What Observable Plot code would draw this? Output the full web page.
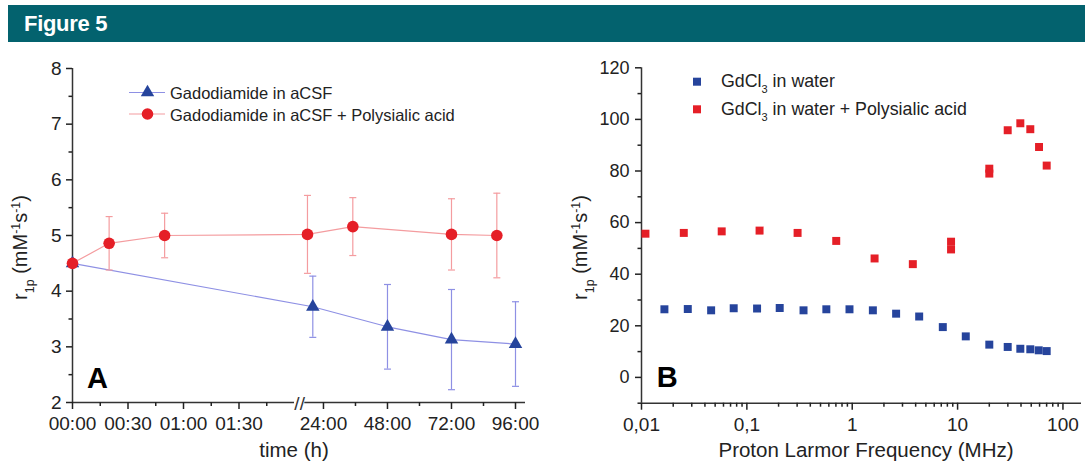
<!DOCTYPE html>
<html><head><meta charset="utf-8">
<script src="https://cdn.jsdelivr.net/npm/d3@7"></script>
<script src="https://cdn.jsdelivr.net/npm/@observablehq/plot@0.6"></script>
<style>
body{margin:0;background:#fff;width:1085px;height:467px;overflow:hidden;font-family:"Liberation Sans",Arial,sans-serif;}
#hdr{position:absolute;left:8px;top:5px;width:1077px;height:37px;background:#03626e;color:#fff;font-weight:bold;font-size:22px;line-height:37px;padding-left:16px;box-sizing:border-box;letter-spacing:-0.3px;}
#charts{position:absolute;left:0;top:42px;display:flex;}
</style></head><body>
<div id="hdr">Figure 5</div>
<div id="charts"><div id="a"></div><div id="b"></div></div>
<script>
// ---------- Panel A data ----------
const seriesA = ["Gadodiamide in aCSF", "Gadodiamide in aCSF + Polysialic acid"];
const hoursBlue = [0, 20, 48, 72, 96];
const r1pBlue = [4.5, 3.72, 3.36, 3.13, 3.05];
const errBlue = [0, 0.55, 0.76, 0.9, 0.76];
const hoursRed = [0, 0.33, 0.83, 18, 35, 72, 89];
const r1pRed = [4.5, 4.86, 5.0, 5.02, 5.16, 5.02, 5.0];
const errRed = [0, 0.48, 0.4, 0.7, 0.52, 0.64, 0.76];
const tickHoursA = [0, 0.5, 1, 1.5, 24, 48, 72, 96];
const tickLabelsA = ["00:00", "00:30", "01:00", "01:30", "24:00", "48:00", "72:00", "96:00"];
const minorHoursA = [0.25, 0.75, 1.25, 1.75, 36, 60, 84];
const yTicksA = [2, 3, 4, 5, 6, 7, 8];
const yMinorA = [2.5, 3.5, 4.5, 5.5, 6.5, 7.5];
const breakA = [2, 17];      // hours hidden by the axis break
const domainA = [0, 99.75];

// ---------- Panel B data ----------
const seriesB = ["GdCl|3| in water", "GdCl|3| in water + Polysialic acid"];
const freqBlue = [0.0165, 0.0275, 0.0458, 0.075, 0.125, 0.205, 0.345, 0.568, 0.942, 1.57, 2.61, 4.32, 7.24, 11.96, 20.0, 29.9, 39.4, 49.0, 58.9, 70.1];
const r1pBlueB = [26.4, 26.5, 26.0, 26.8, 26.7, 26.9, 26.0, 26.4, 26.4, 26.0, 24.7, 23.6, 19.5, 15.9, 12.7, 11.8, 11.1, 10.9, 10.5, 10.2];
const freqRed = [0.0109, 0.0252, 0.0577, 0.132, 0.303, 0.705, 1.63, 3.76, 8.67, 8.67, 20.0, 20.0, 29.9, 39.4, 49.0, 59.3, 70.1];
const r1pRedB = [55.7, 56.0, 56.6, 56.9, 56.0, 52.9, 46.1, 43.9, 52.6, 49.6, 80.9, 79.0, 95.8, 98.5, 96.2, 89.3, 82.1];
const tickFreqB = [0.01, 0.1, 1, 10, 100];
const tickLabelsB = ["0,01", "0,1", "1", "10", "100"];
const minorFreqB = [0.02,0.03,0.04,0.05,0.06,0.07,0.08,0.09,0.2,0.3,0.4,0.5,0.6,0.7,0.8,0.9,2,3,4,5,6,7,8,9,20,30,40,50,60,70,80,90];
const yTicksB = [0, 20, 40, 60, 80, 100, 120];
const yMinorB = [-10, 10, 30, 50, 70, 90, 110];
const domainB = [0.01, 150];
const yDomainB = [-10, 120];

// ---------- styles ----------
const BLUE = "#26449c", BLUE_LINE = "#8e90e4";
const RED = "#e51f27", RED_LINE = "#f49c9f";
const AXIS = "#333";
const FONT = "'Liberation Sans', Arial, sans-serif";

const capSymbol = {draw(ctx, size) { const w = Math.sqrt(size / Math.PI); ctx.moveTo(-w, 0); ctx.lineTo(w, 0); }};

const blueA = hoursBlue.map((h, i) => ({h, r: r1pBlue[i], e: errBlue[i]}));
const redA = hoursRed.map((h, i) => ({h, r: r1pRed[i], e: errRed[i]}));
const errMarks = (data, color) => {
  const d = data.filter(v => v.e > 0);
  return [
    Plot.ruleX(d, {x: "h", y1: v => v.r - v.e, y2: v => v.r + v.e, stroke: color, strokeWidth: 1.2}),
    Plot.dot(d, {x: "h", y: v => v.r + v.e, symbol: capSymbol, r: 3.5, stroke: color, strokeWidth: 1.2, fill: "none"}),
    Plot.dot(d, {x: "h", y: v => v.r - v.e, symbol: capSymbol, r: 3.5, stroke: color, strokeWidth: 1.2, fill: "none"})
  ];
};

const plotA = Plot.plot({
  width: 540, height: 425,
  marginLeft: 72, marginRight: 15, marginTop: 26, marginBottom: 65,
  style: {fontFamily: FONT, fontSize: "19px", color: "#222", background: "transparent", overflow: "visible", maxWidth: "none"},
  x: {type: "linear", domain: [domainA[0], breakA[0], breakA[1], domainA[1]], range: [72, 294, 304.3, 525]},
  y: {domain: [2, 8]},
  marks: [
    Plot.ruleX([domainA[0]], {stroke: AXIS, strokeWidth: 1.5}),
    Plot.ruleY([{x1: domainA[0], x2: breakA[0]}, {x1: breakA[1], x2: domainA[1]}], {x1: "x1", x2: "x2", y: () => 2, stroke: AXIS, strokeWidth: 1.5}),
    Plot.text(["//"], {x: () => (breakA[0] + breakA[1]) / 2, y: () => 2, text: d => d, fontSize: 19, fill: AXIS, dy: 1}),
    Plot.axisX(tickHoursA, {tickSize: 7, tickPadding: 7, strokeWidth: 1.5, fontSize: 19, tickFormat: d => tickLabelsA[tickHoursA.indexOf(d)], label: null}),
    Plot.axisX(minorHoursA, {tickSize: 4, strokeWidth: 1.5, tickFormat: () => "", label: null}),
    Plot.axisY(yTicksA, {tickSize: 6, tickPadding: 5, strokeWidth: 1.5, fontSize: 19, tickFormat: d => String(d), label: null}),
    Plot.axisY(yMinorA, {tickSize: 3.5, strokeWidth: 1.5, tickFormat: () => "", label: null}),
    ...errMarks(blueA, BLUE_LINE),
    Plot.line(blueA, {x: "h", y: "r", stroke: BLUE_LINE, strokeWidth: 1.2}),
    Plot.dot(blueA, {x: "h", y: "r", symbol: "triangle", r: 5, fill: BLUE}),
    ...errMarks(redA, RED_LINE),
    Plot.line(redA, {x: "h", y: "r", stroke: RED_LINE, strokeWidth: 1.2}),
    Plot.dot(redA, {x: "h", y: "r", symbol: "circle", r: 5.8, fill: RED})
  ]
});
document.getElementById("a").append(plotA);

const blueB = freqBlue.map((f, i) => ({f, r: r1pBlueB[i]}));
const redB = freqRed.map((f, i) => ({f, r: r1pRedB[i]}));
const plotB = Plot.plot({
  width: 545, height: 425,
  marginLeft: 101, marginRight: 4, marginTop: 25.3, marginBottom: 64.3,
  style: {fontFamily: FONT, fontSize: "18px", color: "#222", background: "transparent", overflow: "visible", maxWidth: "none"},
  x: {type: "log", domain: domainB},
  y: {domain: yDomainB},
  marks: [
    Plot.ruleX([domainB[0]], {stroke: AXIS, strokeWidth: 1.5}),
    Plot.ruleY([yDomainB[0]], {stroke: AXIS, strokeWidth: 1.5}),
    Plot.axisX(tickFreqB, {tickSize: 7, tickPadding: 7, strokeWidth: 1.5, fontSize: 19, tickFormat: d => tickLabelsB[tickFreqB.indexOf(d)], label: null}),
    Plot.axisX(minorFreqB, {tickSize: 4, strokeWidth: 1.5, tickFormat: () => "", label: null}),
    Plot.axisY(yTicksB, {tickSize: 6, tickPadding: 6, strokeWidth: 1.5, fontSize: 18, tickFormat: d => String(d), label: null}),
    Plot.axisY(yMinorB, {tickSize: 3.5, strokeWidth: 1.5, tickFormat: () => "", label: null}),
    Plot.dot(blueB, {x: "f", y: "r", symbol: "square", r: 4.5, fill: BLUE}),
    Plot.dot(redB, {x: "f", y: "r", symbol: "square", r: 4.5, fill: RED})
  ]
});
document.getElementById("b").append(plotB);

// ---------- rich text (sub/superscripts), legends, panel letters ----------
function yLabel(svg, x, y, size) {
  const t = d3.select(svg).append("text").attr("transform", `translate(${x},${y}) rotate(-90)`)
    .attr("text-anchor", "middle").attr("fill", "#222").style("font-size", size + "px").style("font-family", FONT);
  t.append("tspan").text("r");
  t.append("tspan").attr("baseline-shift", "sub").style("font-size", "0.62em").text("1p");
  t.append("tspan").text(" (mM");
  t.append("tspan").attr("baseline-shift", "super").style("font-size", "0.62em").text("-1");
  t.append("tspan").text("s");
  t.append("tspan").attr("baseline-shift", "super").style("font-size", "0.62em").text("-1");
  t.append("tspan").text(")");
}
function xLabel(svg, x, y, size, txt) {
  d3.select(svg).append("text").attr("x", x).attr("y", y).attr("text-anchor", "middle")
    .attr("fill", "#222").style("font-size", size + "px").style("font-family", FONT).text(txt);
}
function letter(svg, x, y, txt) {
  d3.select(svg).append("text").attr("x", x).attr("y", y).attr("fill", "#000").attr("text-anchor", "start")
    .style("font-size", "29px").style("font-weight", "bold").style("font-family", FONT).text(txt);
}
function richText(sel, s) {
  s.split("|").forEach((part, i) => {
    const ts = sel.append("tspan").text(part);
    if (i % 2 === 1) ts.attr("baseline-shift", "sub").style("font-size", "0.62em");
  });
}

const sA = d3.select(plotA);
yLabel(plotA, 27, 205.5, 20);
xLabel(plotA, 294, 415, 20.5, "time (h)");
letter(plotA, 87, 346, "A");
[[BLUE_LINE, BLUE, "triangle"], [RED_LINE, RED, "circle"]].forEach(([lc, mc, sym], i) => {
  const cy = [50.5, 72][i];
  sA.append("line").attr("x1", 129).attr("x2", 165).attr("y1", cy).attr("y2", cy).attr("stroke", lc).attr("stroke-width", 1.2);
  const s = sym === "triangle" ? d3.symbol(d3.symbolTriangle, 78) : d3.symbol(d3.symbolCircle, Math.PI * 5.8 * 5.8);
  sA.append("path").attr("d", s()).attr("transform", `translate(147.5,${cy})`).attr("fill", mc);
  sA.append("text").attr("x", 170).attr("y", [57.3, 78.7][i]).attr("fill", "#222").attr("text-anchor", "start")
    .style("font-size", "16.5px").style("font-family", FONT).text(seriesA[i]);
});

const sB = d3.select(plotB);
yLabel(plotB, 47, 205.5, 20);
xLabel(plotB, 326, 415, 20.5, "Proton Larmor Frequency (MHz)");
letter(plotB, 116.7, 345, "B");
[BLUE, RED].forEach((c, i) => {
  const cy = [39.7, 67.3][i];
  sB.append("rect").attr("x", 157 - 4).attr("y", cy - 4).attr("width", 8).attr("height", 8).attr("fill", c);
  const t = sB.append("text").attr("x", 181).attr("y", [44.7, 73][i]).attr("fill", "#222").attr("text-anchor", "start")
    .style("font-size", "17.8px").style("font-family", FONT);
  richText(t, seriesB[i]);
});
</script>
</body></html>
